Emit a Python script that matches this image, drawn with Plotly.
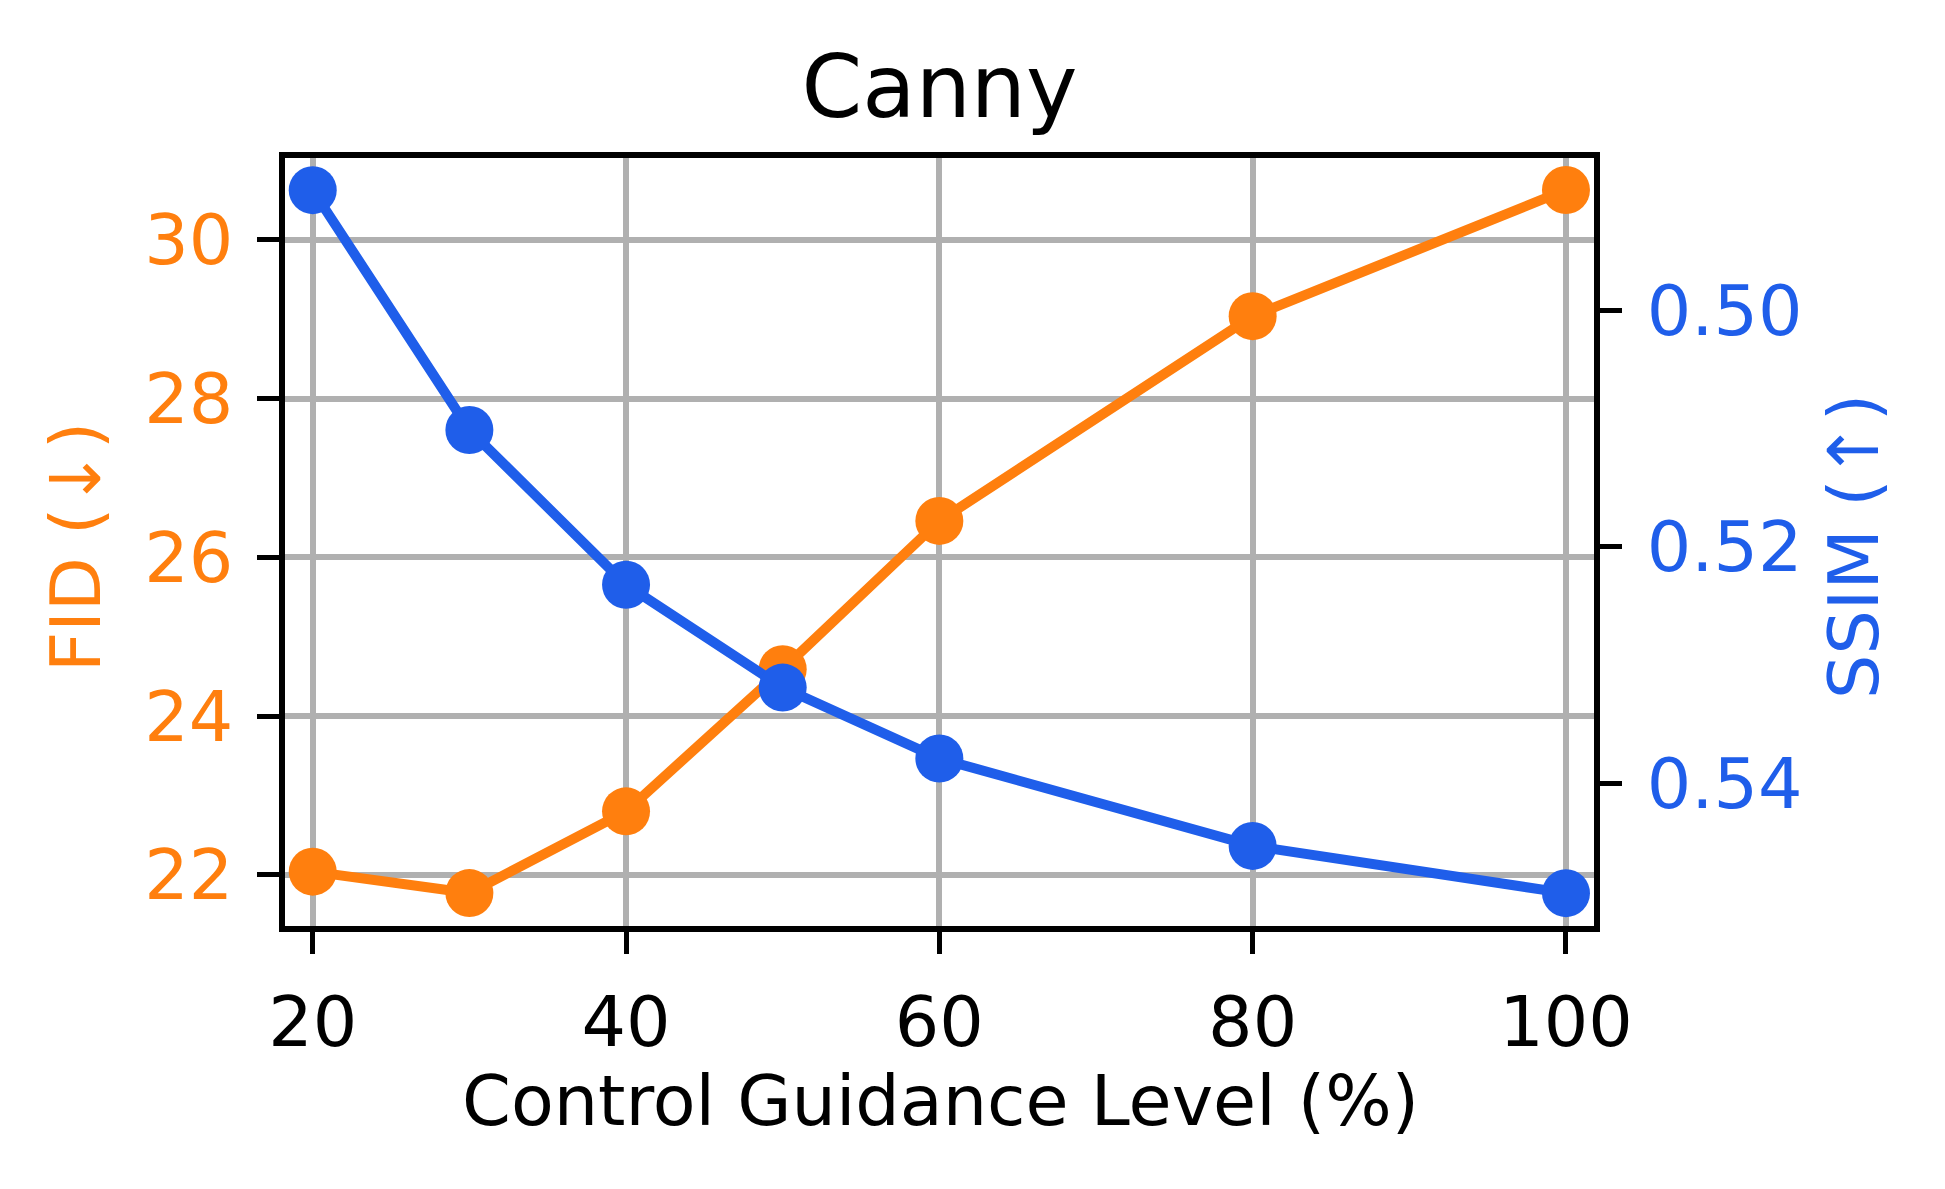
import plotly.graph_objects as go

guidance = [20, 30, 40, 50, 60, 80, 100]
fid = [22.04, 21.77, 22.80, 24.59, 26.46, 29.04, 30.63]
ssim = [0.4898, 0.5101, 0.5232, 0.5319, 0.5379, 0.5453, 0.5493]

x_ticks = [20, 40, 60, 80, 100]
fid_ticks = [22, 24, 26, 28, 30]
ssim_ticks = [0.50, 0.52, 0.54]

ORANGE = "#ff7f0e"
BLUE = "#1f5eea"
FONT = "DejaVu Sans"

# page has an 8px body margin; compensate so the plot area lands at target pixels
OFF = 8
W, H = 1945 - 2 * OFF, 1189 - 2 * OFF
L, R, T, B = 285, 1594, 158, 926  # plot-area pixels in the window (spines drawn just outside)

fig = go.Figure()
fig.add_trace(go.Scatter(
    x=guidance, y=fid, mode="lines+markers", yaxis="y",
    line=dict(color=ORANGE, width=10),
    marker=dict(color=ORANGE, size=48),
    showlegend=False,
))
fig.add_trace(go.Scatter(
    x=guidance, y=ssim, mode="lines+markers", yaxis="y2",
    line=dict(color=BLUE, width=10),
    marker=dict(color=BLUE, size=48),
    showlegend=False,
))

def px_x(p):
    return (p - L) / (R - L)

def px_y(p):
    return (B - p) / (B - T)

fig.update_layout(
    width=W, height=H,
    margin=dict(l=L - OFF, r=(OFF + W) - R, t=T - OFF, b=(OFF + H) - B, pad=0),
    paper_bgcolor="white", plot_bgcolor="white",
    font=dict(family=FONT, size=70, color="black"),
    title=dict(text="Canny", x=px_x((L + R) / 2), xref="paper",
               y=1 - (87 - OFF) / H, yref="container", xanchor="center", yanchor="middle",
               font=dict(size=87, color="black")),
    xaxis=dict(
        range=[18.23, 101.79], tickvals=x_ticks,
        showgrid=True, gridcolor="#b0b0b0", gridwidth=5.5,
        showline=True, linecolor="black", linewidth=5.5, mirror=True,
        ticks="outside", ticklen=22, tickwidth=5, tickcolor="black",
        ticklabelstandoff=8,
        tickfont=dict(size=70, color="black"),
        zeroline=False,
    ),
    yaxis=dict(
        range=[21.355, 31.033], tickvals=fid_ticks,
        showgrid=True, gridcolor="#b0b0b0", gridwidth=5.5,
        showline=True, linecolor="black", linewidth=5.5, mirror=True,
        ticks="outside", ticklen=22, tickwidth=5, tickcolor="black",
        ticklabelstandoff=10,
        tickfont=dict(size=70, color=ORANGE),
        zeroline=False,
    ),
    yaxis2=dict(
        range=[0.55208, 0.48708], tickvals=ssim_ticks, tickformat=".2f",
        overlaying="y", side="right", anchor="x",
        showgrid=False,
        showline=True, linecolor="black", linewidth=5.5,
        ticks="outside", ticklen=22, tickwidth=5, tickcolor="black",
        ticklabelstandoff=11,
        tickfont=dict(size=70, color=BLUE),
        zeroline=False,
    ),
    annotations=[
        dict(text="Control Guidance Level (%)", xref="paper", yref="paper",
             x=px_x(940), y=px_y(1101), xanchor="center", yanchor="middle",
             showarrow=False, font=dict(size=70, color="black")),
        dict(text="FID (↓)", xref="paper", yref="paper",
             x=px_x(76), y=px_y(547), xanchor="center", yanchor="middle",
             textangle=-90, showarrow=False, font=dict(size=70, color=ORANGE)),
        dict(text="SSIM (↑)", xref="paper", yref="paper",
             x=px_x(1854), y=px_y(547), xanchor="center", yanchor="middle",
             textangle=-90, showarrow=False, font=dict(size=70, color=BLUE)),
    ],
)

fig.write_html("out.html")
